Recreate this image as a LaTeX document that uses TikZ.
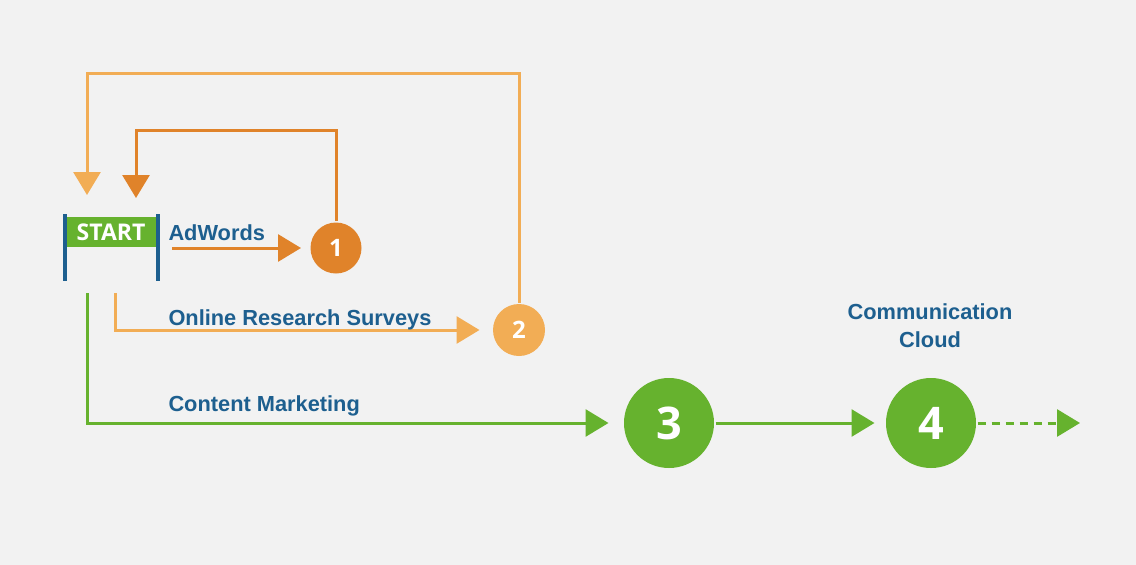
\documentclass[tikz,border=0pt]{standalone}
\usepackage{fontspec}
\setmainfont{Liberation Sans}
\newfontfamily\numfont{Open Sans}
\usetikzlibrary{arrows.meta}
\definecolor{bg}{HTML}{F2F2F2}
\definecolor{ink}{HTML}{1D5F8F}
\definecolor{leaf}{HTML}{66B22E}
\definecolor{rust}{HTML}{E0832A}
\definecolor{sand}{HTML}{F2AD55}
\tikzset{
  stage/.style={circle,inner sep=0pt,text=white},
  lbl/.style={anchor=base west,text=ink,inner sep=0pt,font=\bfseries\fontsize{21.8}{28}\selectfont},
}

\begin{document}
\begin{tikzpicture}[x=1pt,y=-1pt,line width=3pt,>={Triangle[length=23pt,width=27pt]}]
\fill[bg] (0,0) rectangle (1136,565);
% start gate
\node[fill=leaf,minimum width=90pt,minimum height=30pt,inner sep=0pt,text=white,font=\numfont\bfseries\fontsize{23}{24}\selectfont] (start) at (111,232) {START};
\draw[ink,line width=4pt] (64.5,214)--(64.5,281) (158,214)--(158,281);
% stages
\node[stage,fill=rust,minimum size=51pt,font=\numfont\bfseries\fontsize{24}{24}\selectfont] (c1) at (336,248) {1};
\node[stage,fill=sand,minimum size=52pt,font=\numfont\bfseries\fontsize{24}{24}\selectfont] (c2) at (519,330) {2};
\node[stage,fill=leaf,minimum size=90pt,font=\numfont\bfseries\fontsize{45}{46}\selectfont] (c3) at (669,423) {3};
\node[stage,fill=leaf,minimum size=90pt,font=\numfont\bfseries\fontsize{45}{46}\selectfont] (c4) at (931,423) {4};
% loose ends
\coordinate (adw) at (172,248);
\coordinate (ors) at (115,293);
\coordinate (cmk) at (87,293);
\coordinate (back1) at (136,198);
\coordinate (back2) at (87,195);
\coordinate (onward) at (1080,423);
% connectors
\draw[rust,->,shorten >=8pt] (adw) -- (c1.west);
\draw[sand,->,shorten >=12pt] (ors) |- (c2.west);
\draw[leaf,->,shorten >=14pt] (cmk) |- (c3.west);
\draw[leaf,->,shorten >=10pt] (c3) -- (c4.west);
\draw[leaf,dash pattern=on 8pt off 6pt,->] (c4) -- (onward);
\draw[rust,->] (c1.north) -- (c1.north |- 0,130) -| (back1);
\draw[sand,->] (c2.north) -- (c2.north |- 0,73) -| (back2);
% labels
\node[lbl] (adwords) at (167,240) {AdWords};
\node[lbl] (surveys) at (167,325) {Online Research Surveys};
\node[lbl] (content) at (167,411) {Content Marketing};
\node[lbl,anchor=center,align=center] (cloud) at (930,326) {Communication\\Cloud};
\end{tikzpicture}
\end{document}
